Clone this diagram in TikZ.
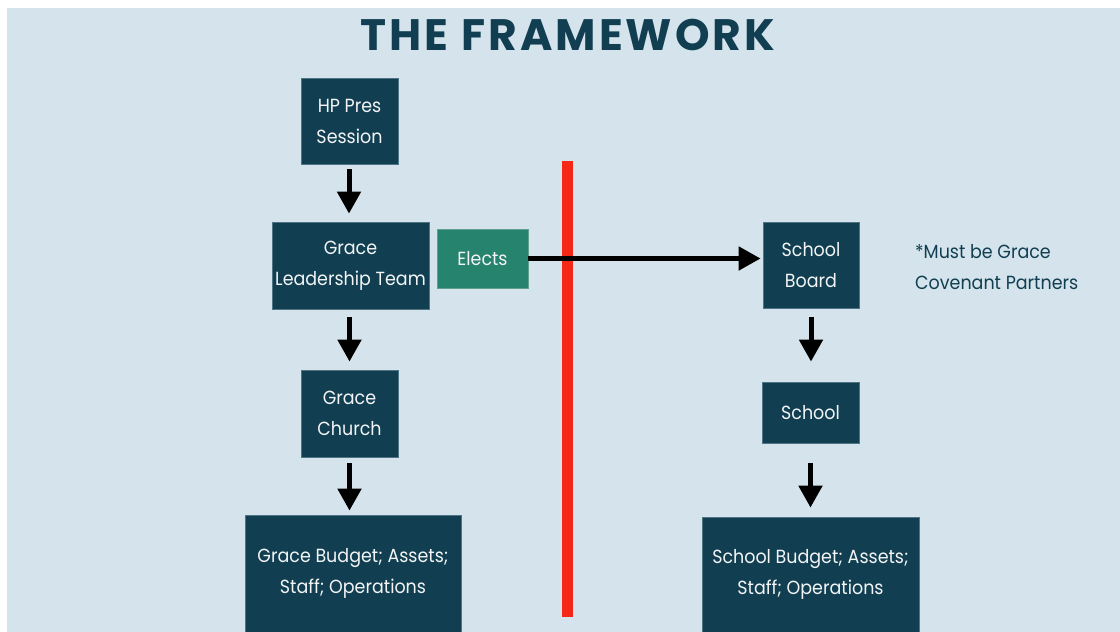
\documentclass[tikz,border=0pt]{standalone}
\usepackage{fontspec}
\setmainfont{Poppins}[FakeStretch=0.92]
\newfontfamily\titlefont{Poppins}[LetterSpace=7]
\usetikzlibrary{arrows.meta}
\definecolor{bgc}{HTML}{D5E4EC}
\definecolor{boxc}{HTML}{113F51}
\definecolor{boxedge}{HTML}{4F7585}
\definecolor{electc}{HTML}{26836D}
\definecolor{electedge}{HTML}{5FA08F}
\definecolor{redc}{HTML}{F52817}
\definecolor{txtc}{HTML}{F2F4F5}
\begin{document}
\begin{tikzpicture}[x=1pt,y=-1pt,
  box/.style={fill=boxc, draw=boxedge, line width=0.8pt, inner sep=0pt,
    text=txtc, align=center, font=\fontsize{19}{31}\selectfont},
  arr/.style={line width=5pt, draw=black, -{Triangle[length=22pt,width=23pt]}}]
\useasboundingbox (0,0) rectangle (1120,632);
\fill[bgc] (7,8) rectangle (1120,632);
\node[font=\titlefont\bfseries\fontsize{44}{50}\selectfont, text=boxc] (title) at (568,35) {THE FRAMEWORK};
% red divider
\fill[redc] (561.5,161) rectangle (572.5,617);
% left column
\node[box, minimum width=97pt, minimum height=86pt] (hp) at (349.5,121) {HP Pres\\Session};
\node[box, minimum width=157pt, minimum height=87pt] (glt) at (350.5,265.5) {Grace\\Leadership Team};
\node[box, fill=electc, draw=electedge, minimum width=91pt, minimum height=59pt] (el) at (482.5,258.5) {Elects};
\node[box, minimum width=97pt, minimum height=87pt] (gc) at (349.5,413.5) {Grace\\Church};
\node[box, minimum width=216pt, minimum height=117pt] (gb) at (353,573.5) {Grace Budget; Assets;\\Staff; Operations};
% right column
\node[box, minimum width=96pt, minimum height=86pt] (sb) at (811,265) {School\\Board};
\node[box, minimum width=97pt, minimum height=61pt] (sc) at (810.5,412.5) {School};
\node[box, minimum width=217pt, minimum height=115pt] (sbud) at (810.5,574.5) {School Budget; Assets;\\Staff; Operations};
\node[anchor=west, align=left, inner sep=0pt, text=boxc, font=\fontsize{19}{31}\selectfont] (note) at (915,267) {*Must be Grace\\Covenant Partners};
% arrows
\draw[arr] ([xshift=-0.5pt,yshift=-5pt]hp.south) -- ([xshift=-0.5pt,yshift=8pt]hp.south |- glt.north);
\draw[arr] ([yshift=-8pt]hp.south |- glt.south) -- ([yshift=8pt]gc.north);
\draw[arr] ([yshift=-6pt]gc.south) -- ([yshift=4pt]gc.south |- gb.north);
\draw[arr] (el.east) -- ([xshift=-2pt]sb.west |- el.east);
\draw[arr] ([yshift=-9pt]sb.south) -- ([yshift=20pt]sb.south |- sc.north);
\draw[arr] ([yshift=-20pt]sc.south) -- ([yshift=9pt]sc.south |- sbud.north);
\end{tikzpicture}
\end{document}
